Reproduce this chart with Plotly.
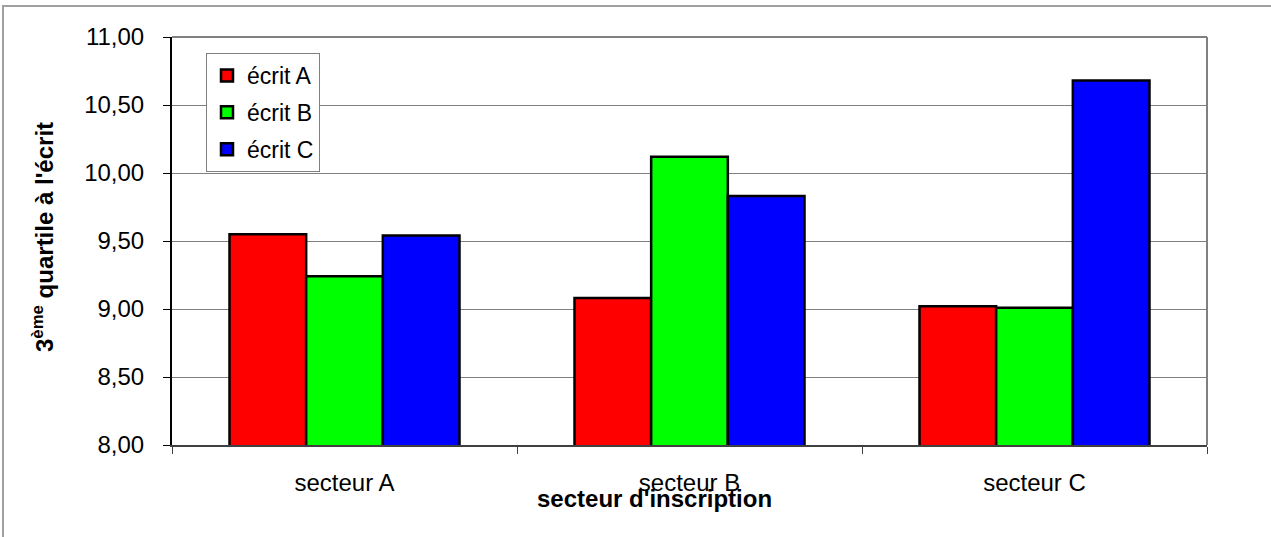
import plotly.graph_objects as go

# Third quartile of written-exam marks by enrolment sector
secteurs = ["secteur A", "secteur B", "secteur C"]
ecrit_a = [9.55, 9.08, 9.02]
ecrit_b = [9.24, 10.12, 9.01]
ecrit_c = [9.54, 9.83, 10.68]
series_names = ["écrit A", "écrit B", "écrit C"]
series_colors = ["#ff0000", "#00ff00", "#0000ff"]

W, H = 1271, 537
L, R, T, B = 172, 1207, 37, 445  # plot-area edges in pixels

fig = go.Figure()
for name, vals, col in zip(series_names, [ecrit_a, ecrit_b, ecrit_c], series_colors):
    fig.add_trace(go.Bar(
        name=name, x=secteurs, y=vals, legendgroup=name,
        marker=dict(color=col, line=dict(color="black", width=2.5)),
    ))

pw, ph = R - L, B - T
def px(x):
    return (x - L) / pw
def py(y):
    return 1 - (y - T) / ph

font = "Liberation Sans, Arial, sans-serif"
fs = 24

fig.update_layout(
    width=W, height=H,
    margin=dict(l=L, r=W - R, t=T, b=H - B),
    paper_bgcolor="white", plot_bgcolor="white",
    barmode="group", bargap=1.5 / 4.5, bargroupgap=0,
    separators=", ",
    font=dict(family=font, size=fs, color="black"),
    showlegend=True,
    legend=dict(
        x=px(206), y=py(53), xanchor="left", yanchor="top",
        bgcolor="white", bordercolor="#808080", borderwidth=1,
        font=dict(family=font, size=23, color="black"),
        tracegroupgap=4, itemwidth=30,
    ),
    xaxis=dict(
        type="category", tickson="boundaries",
        ticks="outside", ticklen=7, tickcolor="#404040", tickwidth=1,
        showline=True, linecolor="#404040", linewidth=2,
        showgrid=False,
        tickfont=dict(family=font, size=fs, color="black"),
        ticklabelstandoff=15,
    ),
    yaxis=dict(
        range=[8, 11], dtick=0.5, tick0=8, tickformat=".2f",
        ticks="outside", ticklen=7, tickcolor="black", tickwidth=1,
        showline=True, linecolor="black", linewidth=2,
        showgrid=True, gridcolor="#808080", gridwidth=1,
        zeroline=False,
        tickfont=dict(family=font, size=fs, color="black"),
        ticklabelstandoff=14,
    ),
    shapes=[
        # gray border of the plot area (top and right)
        dict(type="line", xref="paper", yref="paper", x0=0, x1=1, y0=1, y1=1,
             line=dict(color="#808080", width=2)),
        dict(type="line", xref="paper", yref="paper", x0=1, x1=1, y0=0, y1=1,
             line=dict(color="#808080", width=2)),
        # outer chart frame
        dict(type="rect", xref="paper", yref="paper",
             x0=px(3), x1=px(1290), y0=py(560), y1=py(6),
             line=dict(color="#a0a0a0", width=2), layer="below"),
    ],
    annotations=[
        dict(text="<b>secteur d'inscription</b>", xref="paper", yref="paper",
             x=px(654), y=py(498), xanchor="center", yanchor="middle",
             showarrow=False, font=dict(family=font, size=fs, color="black")),
        dict(text="<b>3<sup>ème</sup> quartile à l'écrit</b>", xref="paper", yref="paper",
             x=px(43), y=py(237), xanchor="center", yanchor="middle", textangle=-90,
             showarrow=False, font=dict(family=font, size=fs, color="black")),
    ],
)

fig.write_html("out.html")
